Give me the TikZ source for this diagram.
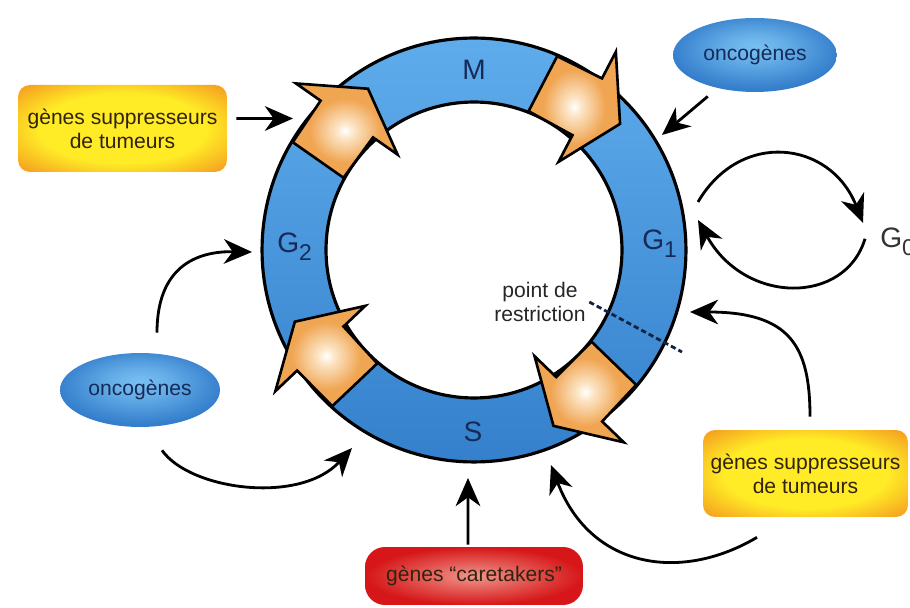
\documentclass[tikz,border=0pt]{standalone}
\usepackage{fontspec}
\setmainfont{Liberation Sans}
\usetikzlibrary{shapes.geometric,arrows.meta}
\definecolor{ringtop}{RGB}{95,172,236}
\definecolor{ringbot}{RGB}{52,128,204}
\definecolor{arrowor}{RGB}{240,165,82}
\definecolor{arrowlt}{RGB}{252,230,200}
\definecolor{navy}{RGB}{22,42,88}
\definecolor{boxyel}{RGB}{255,236,38}
\definecolor{boxorg}{RGB}{245,160,32}
\definecolor{boxred}{RGB}{214,22,24}
\definecolor{boxpink}{RGB}{240,150,140}
\definecolor{ellin}{RGB}{120,192,242}
\definecolor{ellout}{RGB}{52,126,204}
\definecolor{textbrown}{RGB}{50,35,15}
\pgfdeclareradialshading{arrowshade}{\pgfpoint{0bp}{0bp}}{color(0bp)=(white); color(4bp)=(arrowlt); color(17bp)=(arrowor); color(50bp)=(arrowor)}
\pgfdeclareradialshading{yelshade}{\pgfpoint{0bp}{0bp}}{color(0bp)=(boxyel); color(20bp)=(boxyel); color(34bp)=(boxorg); color(50bp)=(boxorg)}
\pgfdeclareradialshading{ovalshade}{\pgfpoint{0bp}{6bp}}{color(0bp)=(ellin); color(10bp)=(ellin!70!ellout); color(26bp)=(ellout); color(50bp)=(ellout)}
\newcommand{\cyclarrow}[1]{%
  \begin{scope}[shift={(474,358)},rotate=#1]
    \begin{scope}[shift={(180,0)},rotate=-95]
      \shadedraw[shading=arrowshade,line width=1.5pt,line join=miter]
        (0,31) -- (50,32) -- (50,62) -- (87,0) -- (50,-62) -- (50,-32) -- (0,-31) -- cycle;
    \end{scope}
  \end{scope}}
\begin{document}
\begin{tikzpicture}[x=0.02cm,y=0.02cm,
  ringline/.style={line width=1.8pt},
  lbl/.style={text=navy,font=\fontsize{16}{16}\selectfont,inner sep=0pt},
  ybox/.style={shade,shading=yelshade,rounded corners=0.24cm,
    minimum height=1.74cm,inner sep=0pt,align=center,text=textbrown,
    font=\fontsize{12}{13.5}\selectfont},
  rbox/.style={shade,inner color=boxpink,outer color=boxred,rounded corners=0.4cm,
    minimum height=1.16cm,minimum width=4.36cm,inner sep=0pt,text=textbrown,
    font=\fontsize{12}{13.5}\selectfont},
  oval/.style={ellipse,shade,shading=ovalshade,minimum height=1.48cm,
    inner sep=0pt,text=navy,font=\fontsize{12}{13.5}\selectfont},
  conn/.style={line width=1.6pt,-{Stealth[length=16pt,width=14pt,inset=5pt]}}]
\fill[white] (0,0) rectangle (910,608);
\useasboundingbox (0,0) rectangle (910,608);
\clip (0,0) rectangle (910,608);

\coordinate (rc) at (474,358);
% ring
\shade[top color=ringtop,bottom color=ringbot,even odd rule]
  (rc) circle[radius=4.24cm] (rc) circle[radius=2.96cm];
\draw[ringline] (rc) circle[radius=4.24cm];
\draw[ringline] (rc) circle[radius=2.96cm];

% orange arrows
\cyclarrow{150}
\cyclarrow{67.5}
\cyclarrow{-39}
\cyclarrow{228.5}

% phase labels
\node[lbl] (M) at (474,538) {M};
\node[lbl] (S) at (473,176) {S};
\node[lbl,anchor=base west] (G1) at (642,358) {G\raisebox{-4pt}{\fontsize{13}{13}\selectfont 1}};
\node[lbl,anchor=base west] (G2) at (277,355) {G\raisebox{-4pt}{\fontsize{13}{13}\selectfont 2}};
\node[lbl,text=black!80,anchor=base west] (g0) at (880,360) {G\raisebox{-4pt}{\fontsize{13}{13}\selectfont 0}};

% restriction point
\node[align=center,inner sep=1pt,text=black!85,font=\fontsize{12}{13.5}\selectfont] (pr) at (540,306) {point de\\restriction};
\coordinate (dashend) at (682,256);
\draw[navy!80!black,line width=1.6pt,dash pattern=on 3pt off 1.8pt] ([xshift=0.03cm]pr.east) -- (dashend);

% boxes
\node[ybox,minimum width=4.18cm] (tsl) at (122.5,479.5) {gènes suppresseurs\\de tumeurs};
\node[ybox,minimum width=4.1cm] (tsr) at (805.5,134.5) {gènes suppresseurs\\de tumeurs};
\node[rbox] (care) at (474,32) {gènes “caretakers”};
\node[oval,minimum width=3.28cm] (onc1) at (755,553) {oncogènes};
\node[oval,minimum width=3.2cm] (onc2) at (140,218) {oncogènes};

% end points on the ring
\coordinate (a1) at (293,489.5);
\coordinate (b1) at (662,473);
\coordinate (g1a) at (698,406);
\coordinate (g1b) at (698,388);
\coordinate (e1) at (690,296);
\coordinate (f1) at (551,143);
\coordinate (g1c) at (468,130);
\coordinate (h1) at (252,356);
\coordinate (i1) at (352,160);

% connectors
\draw[conn] ([shift={(0.18cm,0.2cm)}]tsl.east) -- (a1);
\draw[conn] ([shift={(0.22cm,-0.3cm)}]onc1.south west) -- (b1);
\draw[conn] (g1a) .. controls (740,478) and (830,468) .. ([shift={(-0.34cm,0.38cm)}]g0.west);
\draw[conn] ([shift={(-0.3cm,0.06cm)}]g0.west) .. controls (845,303) and (745,303) .. (g1b);
\draw[conn] ([shift={(0.09cm,0.26cm)}]tsr.north) .. controls (810,262) and (790,296) .. (e1);
\draw[conn] ([shift={(-0.97cm,-0.4cm)}]tsr.south) .. controls (680,25) and (590,40) .. (f1);
\draw[conn] ([shift={(-0.12cm,0.04cm)}]care.north) -- (g1c);
\draw[conn] ([shift={(0.34cm,0.4cm)}]onc2.north) .. controls (157,340) and (195,357) .. (h1);
\draw[conn] ([shift={(0.44cm,-0.46cm)}]onc2.south) .. controls (190,118) and (300,103) .. (i1);
\end{tikzpicture}
\end{document}
